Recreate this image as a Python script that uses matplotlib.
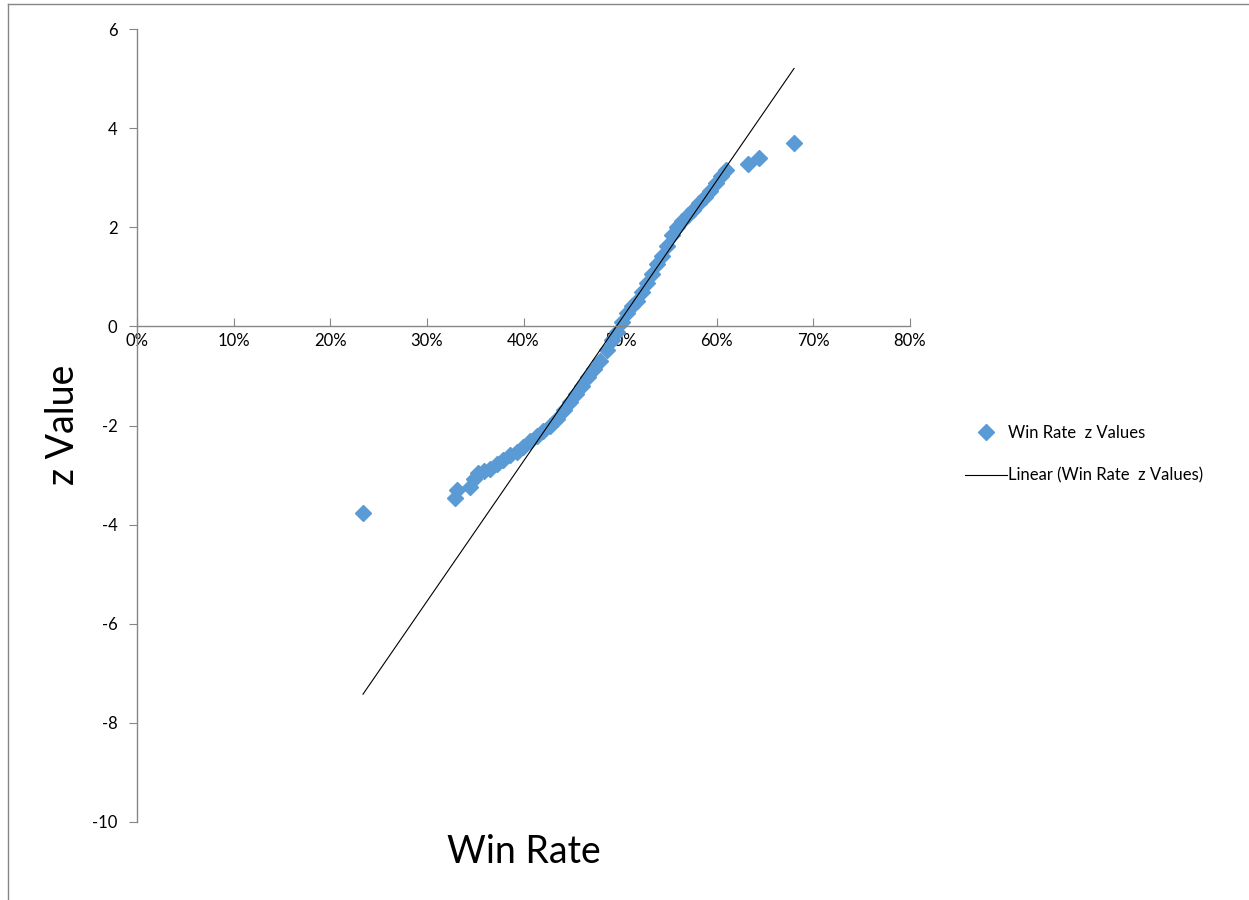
import matplotlib.pyplot as plt
from matplotlib.ticker import PercentFormatter, MultipleLocator
from matplotlib.lines import Line2D

plt.rcParams['font.family'] = ['Lato', 'DejaVu Sans']
plt.rcParams['axes.unicode_minus'] = False

# Win rate (fraction) and matching z value
win_rate = [0.2339, 0.3291, 0.3312, 0.3446, 0.3488, 0.3529, 0.3591, 0.3653,
            0.3726, 0.3788, 0.3860, 0.3933, 0.3995, 0.4067, 0.4140, 0.4202,
            0.4274, 0.4347, 0.4419, 0.4481, 0.4543, 0.4605, 0.4668, 0.4730,
            0.4792, 0.4864, 0.4916, 0.4968, 0.5019, 0.5071, 0.5123, 0.5175,
            0.5226, 0.5278, 0.5330, 0.5382, 0.5433, 0.5485, 0.5537, 0.5589,
            0.5640, 0.5702, 0.5754, 0.5816, 0.5878, 0.5930, 0.5992, 0.6044,
            0.6096, 0.6323, 0.6437, 0.6800]
z_value = [-3.77, -3.47, -3.31, -3.25, -3.07, -2.95, -2.91, -2.87,
           -2.78, -2.70, -2.60, -2.54, -2.44, -2.32, -2.22, -2.12,
           -2.00, -1.86, -1.69, -1.53, -1.37, -1.21, -1.03, -0.87,
           -0.69, -0.48, -0.28, -0.12, 0.08, 0.26, 0.42, 0.52,
           0.69, 0.87, 1.05, 1.25, 1.43, 1.63, 1.84, 2.00,
           2.12, 2.24, 2.34, 2.48, 2.62, 2.74, 2.89, 3.03,
           3.15, 3.27, 3.39, 3.69]

# linear trendline (Excel), slope / intercept
trend_slope = 28.3
trend_intercept = -14.04

fig = plt.figure(figsize=(12.49, 9), dpi=100)
ax = fig.add_axes([137 / 1249, 1 - 822 / 900, 773 / 1249, 793 / 900])

ax.plot(win_rate, z_value, linestyle='none', marker='D', markersize=8,
        color='#5B9BD5', label='Win Rate  z Values')
x_ends = [min(win_rate), max(win_rate)]
ax.plot(x_ends, [trend_slope * x + trend_intercept for x in x_ends],
        color='black', linewidth=0.8, label='Linear (Win Rate  z Values)')

ax.set_xlim(0, 0.8)
ax.set_ylim(-10, 6)
ax.xaxis.set_major_locator(MultipleLocator(0.1))
ax.xaxis.set_major_formatter(PercentFormatter(1.0, decimals=0))
ax.yaxis.set_major_locator(MultipleLocator(2))

for side in ['top', 'right']:
    ax.spines[side].set_visible(False)
ax.spines['bottom'].set_position(('data', 0))
for side in ['left', 'bottom']:
    ax.spines[side].set_color('#868686')
    ax.spines[side].set_linewidth(1.0)

ax.tick_params(axis='y', direction='out', length=6, color='#868686',
               labelsize=12, pad=8)
ax.tick_params(axis='x', direction='in', length=6, color='#868686',
               labelsize=12, pad=5)

fig.text(524 / 1249, 1 - 852 / 900, 'Win Rate', fontsize=27,
         ha='center', va='center')
fig.text(63 / 1249, 1 - 425 / 900, 'z Value', fontsize=27,
         ha='center', va='center', rotation=90)

fig.legend(loc='center left', bbox_to_anchor=(950 / 1249, 1 - 454 / 900),
           frameon=False, fontsize=12, handlelength=2.5, labelspacing=1.6,
           handletextpad=0.1)

# outer chart frame
fig.add_artist(Line2D([8 / 1249, 1], [1 - 4 / 900, 1 - 4 / 900], color='#868686', lw=1))
fig.add_artist(Line2D([8 / 1249, 8 / 1249], [0, 1 - 4 / 900], color='#868686', lw=1))

fig.savefig('out.png', dpi=100)
